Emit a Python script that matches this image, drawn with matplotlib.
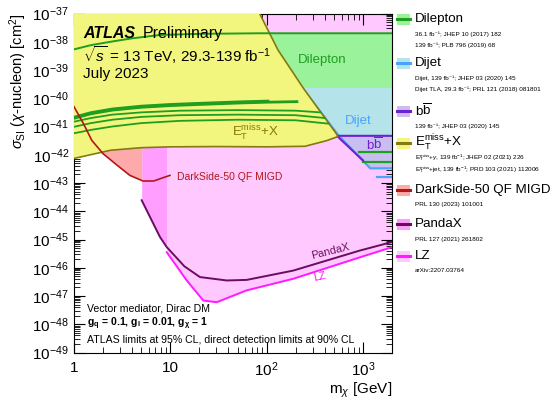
import numpy as np
import matplotlib
matplotlib.use("Agg")
import matplotlib.pyplot as plt
from matplotlib.patches import Rectangle
from matplotlib.ticker import LogLocator, FuncFormatter, NullFormatter

plt.rcParams['font.family'] = ['Liberation Sans', 'DejaVu Sans']
plt.rcParams['mathtext.fontset'] = 'custom'
plt.rcParams['mathtext.rm'] = 'Liberation Sans'
plt.rcParams['mathtext.it'] = 'Liberation Sans:italic'
plt.rcParams['mathtext.bf'] = 'Liberation Sans:bold'

# ---- data: dark matter mass [GeV], log10(cross section / cm^2) ----
ds_mass = [1.0, 1.25, 1.53, 2.0, 2.8, 3.8, 5.2, 6.7, 9.9]
ds_logxs = [-40.30, -40.89, -41.49, -41.96, -42.37, -42.73, -42.93, -42.93, -42.73]

pandax_mass = [5.04, 6.66, 7.8, 9.18, 14.0, 20.3, 38.5, 62, 189, 930, 2000]
pandax_logxs = [-43.61, -44.44, -44.91, -45.27, -45.95, -46.33, -46.45, -46.43, -46.10, -45.39, -45.09]

lz_mass = [9.18, 14.8, 22.0, 30.3, 62, 189, 930, 2000]
lz_logxs = [-45.45, -46.45, -47.16, -47.22, -46.80, -46.39, -45.63, -45.27]

# E_T^miss + X exclusion contour
etmiss_mass = [0.9, 83, 131, 241, 535, 545, 420, 250, 100, 30, 10, 5, 2.4, 1.0, 0.9]
etmiss_logxs = [-36.8, -36.95, -38.29, -39.65, -41.28, -41.36, -41.5, -41.7, -41.72,
                -41.71, -41.72, -41.75, -41.84, -42.13, -42.16]

# dilepton contour (top edge) and band
dilep_top_mass = [1.0, 1.5, 2.4, 4.0, 7.8, 20, 85, 2000]
dilep_top_logxs = [-38.27, -38.12, -38.0, -37.88, -37.76, -37.72, -37.70, -37.70]
dilep_band_mass = [85, 2000]
dilep_band_logxs = (-37.70, -39.63)

# green limit curves inside the E_T^miss region
green_mass = [
    [1.0, 1.5, 2.5, 5, 10, 20, 50, 100, 206],
    [1.0, 1.5, 2.5, 5, 10, 20, 50, 103],
    [1.0, 1.5, 2.5, 5, 12.6, 50, 200, 360],
    [1.0, 1.5, 2.5, 5, 12.6, 50, 200, 400],
    [1.0, 1.5, 2.5, 5, 12.6, 50, 200, 440],
]
green_logxs = [
    [-40.71, -40.55, -40.42, -40.32, -40.26, -40.22, -40.17, -40.14, -40.12],
    [-40.67, -40.51, -40.38, -40.28, -40.22, -40.18, -40.13, -40.10],
    [-40.83, -40.70, -40.58, -40.50, -40.44, -40.42, -40.44, -40.50],
    [-41.01, -40.88, -40.76, -40.66, -40.60, -40.58, -40.60, -40.70],
    [-41.24, -41.12, -41.00, -40.88, -40.80, -40.76, -40.78, -40.90],
]
green_width = [2.0, 2.0, 1.3, 1.3, 1.3]

# dijet
dijet_mass = [150, 2000, 2000, 560]
dijet_logxs = [-39.63, -39.63, -41.33, -41.33]
dijet_line_mass = [233, 560, 1190, 2000]
dijet_line_logxs = [-39.63, -41.33, -42.48, -42.48]
dijet_tla_mass = [1410, 2000]
dijet_tla_logxs = [-42.80, -42.80]

# b bbar
bb_mass = [535, 2000, 2000, 1150, 1000]
bb_logxs = [-41.33, -41.33, -42.45, -42.45, -42.2]
bb_green_mass = [[900, 2000], [1000, 2000]]
bb_green_logxs = [[-41.90, -41.90], [-42.25, -42.25]]

# legend entries
leg_names = ['Dilepton', 'Dijet', r'b$\overline{\mathrm{b}}$', r'E$_\mathrm{T}^\mathrm{miss}$+X',
             'DarkSide-50 QF MIGD', 'PandaX', 'LZ']
leg_refs = [
    ['36.1 fb\u207b\u00b9; JHEP 10 (2017) 182', '139 fb\u207b\u00b9; PLB 796 (2019) 68'],
    ['Dijet, 139 fb\u207b\u00b9; JHEP 03 (2020) 145', 'Dijet TLA, 29.3 fb\u207b\u00b9; PRL 121 (2018) 081801'],
    ['139 fb\u207b\u00b9; JHEP 03 (2020) 145'],
    [r'E$_\mathrm{T}^\mathrm{miss}$+$\gamma$, 139 fb$^{-1}$; JHEP 02 (2021) 226',
     r'E$_\mathrm{T}^\mathrm{miss}$+jet, 139 fb$^{-1}$; PRD 103 (2021) 112006'],
    ['PRL 130 (2023) 101001'],
    ['PRL 127 (2021) 261802'],
    ['arXiv:2207.03764'],
]

# colours
c_green, c_green_fill = '#1f9e1f', '#9af29a'
c_blue, c_blue_fill = '#4aa3ff', '#b4e3ea'
c_purple, c_purple_fill = '#7020d0', '#c8bff0'
c_yellow, c_olive = '#f3f67e', '#857a10'
c_red, c_red_fill = '#b01818', '#ffaaaa'
c_pandax, c_pandax_fill = '#6a0d5f', '#ff9eff'
c_lz, c_lz_fill = '#ff1aff', '#ffc8ff'

leg_fill = [c_green_fill, c_blue_fill, c_purple_fill, c_yellow, c_red_fill, c_pandax_fill, c_lz_fill]
leg_line = [c_green, c_blue, c_purple, c_olive, c_red, c_pandax, c_lz]


def p(v):
    return 10.0 ** np.asarray(v, dtype=float)


fig = plt.figure(figsize=(5.52, 4.0), dpi=100)
ax = fig.add_axes([74 / 552, 47.5 / 400, 318 / 552, 339 / 400])
ax.set_xscale('log')
ax.set_yscale('log')
ax.set_xlim(1, 2000)
ax.set_ylim(1e-49, 1e-37)

# direct detection regions
m = np.geomspace(lz_mass[0], 2000, 300)
ax.fill_between(m, p(np.interp(np.log10(m), np.log10(lz_mass), lz_logxs)), 1e-36,
                color=c_lz_fill, lw=0, zorder=1)
m = np.geomspace(pandax_mass[0], lz_mass[0], 100)
ax.fill_between(m, p(np.interp(np.log10(m), np.log10(pandax_mass), pandax_logxs)), 1e-36,
                color=c_pandax_fill, lw=0, zorder=1)
m = np.geomspace(ds_mass[0], pandax_mass[0], 100)
ax.fill_between(m, p(np.interp(np.log10(m), np.log10(ds_mass), ds_logxs)), 1e-36,
                color=c_red_fill, lw=0, zorder=1)

# collider regions below the E_T^miss contour
ax.fill_between(dilep_band_mass, p(dilep_band_logxs[1]), p(dilep_band_logxs[0]),
                color=c_green_fill, lw=0, zorder=2)
ax.fill(dijet_mass, p(dijet_logxs), color=c_blue_fill, lw=0, zorder=2)
ax.fill(bb_mass, p(bb_logxs), color=c_purple_fill, lw=0, zorder=2)
ax.plot(dijet_line_mass, p(dijet_line_logxs), color=c_blue, lw=1.6, zorder=2.5)
ax.plot(dijet_tla_mass, p(dijet_tla_logxs), color=c_blue, lw=1.6, zorder=2.5)
for mm, ll in zip(bb_green_mass, bb_green_logxs):
    ax.plot(mm, p(ll), color=c_green, lw=1.6, zorder=2.6)
ax.plot([bb_mass[4], bb_mass[0], bb_mass[1]], p([bb_logxs[4], bb_logxs[0], bb_logxs[1]]),
        color=c_purple, lw=1.5, zorder=2.7)

ax.fill(etmiss_mass, p(etmiss_logxs), facecolor=c_yellow, edgecolor=c_olive, lw=1.2, zorder=3)

# lines
ax.plot(dilep_top_mass, p(dilep_top_logxs), color=c_green, lw=1.4, zorder=4)
for mm, ll, w in zip(green_mass, green_logxs, green_width):
    ax.plot(mm, p(ll), color=c_green, lw=w, zorder=4)
ax.plot(ds_mass, p(ds_logxs), color=c_red, lw=1.2, zorder=4)
ax.plot(pandax_mass, p(pandax_logxs), color=c_pandax, lw=1.4, zorder=4)
ax.plot(lz_mass, p(lz_logxs), color=c_lz, lw=1.4, zorder=4)

# region labels
ax.text(376, p(-38.65), 'Dilepton', color=c_green, fontsize=9.5, ha='center', va='center', zorder=5)
ax.text(890, p(-40.81), 'Dijet', color=c_blue, fontsize=9.5, ha='center', va='center', zorder=5)
ax.text(1300, p(-41.65), r'b$\overline{\mathrm{b}}$', color=c_purple, fontsize=9.5,
        ha='center', va='center', zorder=5)
ax.text(76, p(-41.23), r'E$_\mathrm{T}^\mathrm{miss}$+X', color=c_olive, fontsize=9.5,
        ha='center', va='center', zorder=5)
ax.text(11.6, p(-42.78), 'DarkSide-50 QF MIGD', color=c_red, fontsize=7.5,
        ha='left', va='center', zorder=5)
ax.text(455, p(-45.43), 'PandaX', color=c_pandax, fontsize=7.8, rotation=14,
        ha='center', va='center', zorder=5)
ax.text(359, p(-46.32), 'LZ', color=c_lz, fontsize=7.8, rotation=12,
        ha='center', va='center', zorder=5)

# ATLAS labels
ax.text(0.028, 0.942, 'ATLAS', transform=ax.transAxes, fontsize=11.5, fontweight='bold',
        fontstyle='italic', va='center', zorder=6)
ax.text(0.215, 0.942, 'Preliminary', transform=ax.transAxes, fontsize=11.5, va='center', zorder=6)
ax.text(0.028, 0.878, r'$\sqrt{s}$ = 13 TeV, 29.3-139 fb$^{-1}$', transform=ax.transAxes,
        fontsize=11, va='center', zorder=6)
ax.text(0.028, 0.822, 'July 2023', transform=ax.transAxes, fontsize=11, va='center', zorder=6)

ax.text(0.04, 0.131, 'Vector mediator, Dirac DM', transform=ax.transAxes, fontsize=7.6,
        va='center', zorder=6)
ax.text(0.04, 0.084, r'g$_\mathbf{q}$ = 0.1, g$_\mathbf{l}$ = 0.01, g$_\mathbf{\chi}$ = 1',
        transform=ax.transAxes, fontsize=7.6, fontweight='bold', va='center', zorder=6)
ax.text(0.04, 0.037, 'ATLAS limits at 95% CL, direct detection limits at 90% CL',
        transform=ax.transAxes, fontsize=7.6, va='center', zorder=6)

# axes styling
ax.yaxis.set_major_locator(LogLocator(base=10, numticks=30))
ax.yaxis.set_minor_locator(LogLocator(base=10, subs=np.arange(2, 10), numticks=30))
ax.yaxis.set_minor_formatter(NullFormatter())
ax.xaxis.set_major_locator(LogLocator(base=10, numticks=10))
ax.xaxis.set_minor_locator(LogLocator(base=10, subs=np.arange(2, 10), numticks=10))
ax.xaxis.set_minor_formatter(NullFormatter())
ax.xaxis.set_major_formatter(FuncFormatter(
    lambda v, pos: '1' if v < 5 else ('10' if v < 50 else r'$10^{%d}$' % round(np.log10(v)))))
ax.tick_params(which='both', direction='in', top=True, right=True, labelsize=11)
ax.tick_params(which='major', length=8, width=0.8)
ax.tick_params(which='minor', length=4, width=0.6)
ax.tick_params(axis='x', pad=6)
ax.text(-0.176, 1.0, r'$\sigma_\mathrm{SI}$ ($\chi$-nucleon) [cm$^{2}$]', transform=ax.transAxes,
        fontsize=10.5, rotation=90, ha='center', va='top')
ax.text(1.0, -0.112, r'm$_\chi$ [GeV]', transform=ax.transAxes, fontsize=11, ha='right', va='center')

# legend (drawn in figure coordinates)
leg_y = [19, 63, 111, 143, 190, 224, 256]
for name, refs, fc, lc, y in zip(leg_names, leg_refs, leg_fill, leg_line, leg_y):
    fy = 1 - y / 400
    fig.patches.append(Rectangle((397 / 552, fy - 5.5 / 400), 13 / 552, 11 / 400,
                                 transform=fig.transFigure, facecolor=fc, edgecolor='none'))
    fig.lines.append(plt.Line2D([397 / 552, 410 / 552], [fy, fy], transform=fig.transFigure,
                                color=lc, lw=2.2))
    fig.text(415 / 552, fy, name, fontsize=9.6, va='center', ha='left')
    for k, r in enumerate(refs):
        fig.text(415 / 552, 1 - (y + 15 + 11.5 * k) / 400, r, fontsize=4.6, va='center', ha='left')

fig.savefig('out.png', dpi=100)
